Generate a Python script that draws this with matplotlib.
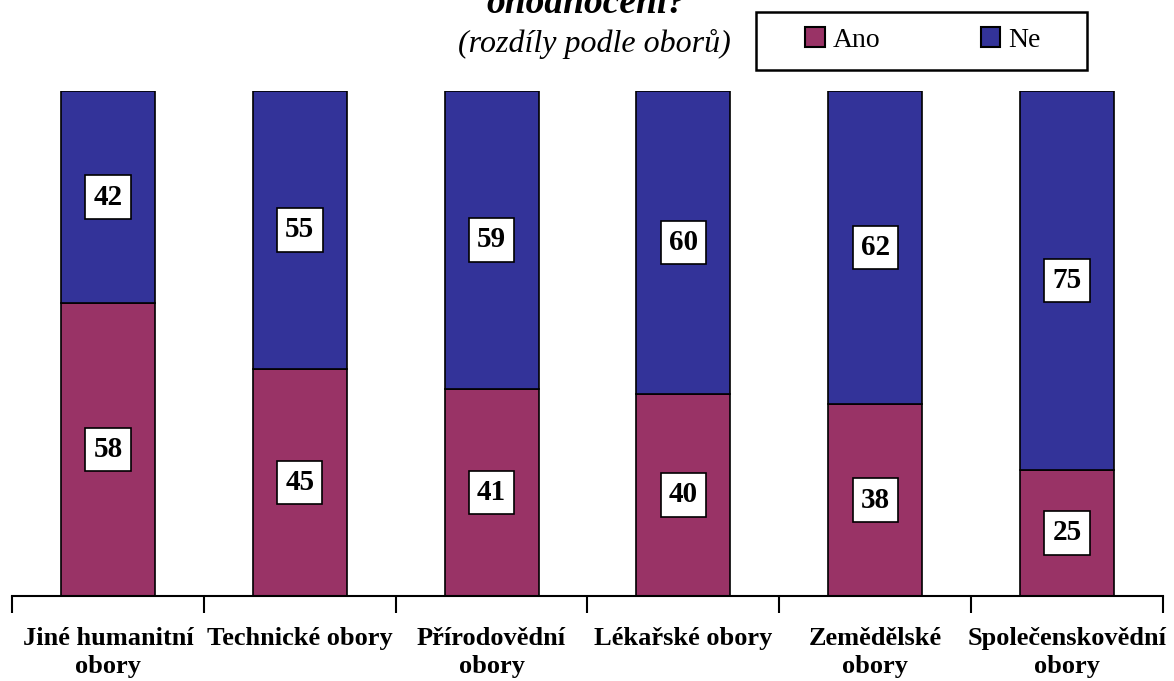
import numpy as np
import matplotlib
matplotlib.use("Agg")
import matplotlib.pyplot as plt
from matplotlib.patches import Rectangle

plt.rcParams['font.family'] = ['Liberation Serif', 'DejaVu Serif']

# data
categories = ["Jiné humanitní\nobory", "Technické obory", "Přírodovědní\nobory",
              "Lékařské obory", "Zemědělské\nobory", "Společenskovědní\nobory"]
ano = [58, 45, 41, 40, 38, 25]
ne = [42, 55, 59, 60, 62, 75]

c_ano = "#993366"
c_ne = "#333399"

W, H = 1174, 681
fig = plt.figure(figsize=(W / 100, H / 100), dpi=100)
ax = fig.add_axes([12 / W, 1 - 596 / H, (1163 - 12) / W, (596 - 91) / H])

x = np.arange(len(categories))
w = 0.49
ax.bar(x, ano, w, color=c_ano, edgecolor="black", linewidth=1.2, label="Ano")
ax.bar(x, ne, w, bottom=ano, color=c_ne, edgecolor="black", linewidth=1.2, label="Ne")

box = dict(boxstyle="square,pad=0.28", fc="white", ec="black", lw=1.2)
for i in range(len(x)):
    ax.text(x[i], ano[i] / 2, str(ano[i]), ha="center", va="center",
            fontsize=21, fontweight="bold", bbox=box)
    ax.text(x[i], ano[i] + ne[i] / 2, str(ne[i]), ha="center", va="center",
            fontsize=21, fontweight="bold", bbox=box)

ax.set_xlim(-0.5, len(x) - 0.5)
ax.set_ylim(0, 100)
for s in ["top", "right", "left"]:
    ax.spines[s].set_visible(False)
ax.spines["bottom"].set_linewidth(1.5)
ax.set_yticks([])
ax.set_xticks(x)
ax.set_xticklabels(categories, fontsize=19, fontweight="bold", linespacing=1.3)
ax.tick_params(axis="x", which="major", length=0, pad=22)
ax.set_xticks(np.arange(-0.5, len(x), 1), minor=True)
ax.tick_params(axis="x", which="minor", length=12, width=1.5)

# title (top line cut off by the figure edge, as in the reference)
fig.text(586 / W, 1 - 13 / H, "ohodnocení?", ha="center", va="baseline",
         fontsize=27, fontweight="bold", style="italic")
fig.text(594 / W, 1 - 44 / H, "(rozdíly podle oborů)", ha="center", va="center",
         fontsize=23, style="italic")

# legend with its own frame
leg = fig.legend(loc="center", bbox_to_anchor=(923 / W, 1 - 40 / H), ncol=2,
                 fontsize=20, frameon=False,
                 handlelength=0.7, handleheight=0.7, handletextpad=0.3,
                 columnspacing=3.6, borderpad=0, borderaxespad=0)
for h in leg.legend_handles:
    h.set_linewidth(1.5)
fig.add_artist(Rectangle((756 / W, 1 - 70 / H), (1087 - 756) / W, 58 / H,
                         transform=fig.transFigure, fill=False, ec="black", lw=1.8))

fig.savefig("out.png", dpi=100)
